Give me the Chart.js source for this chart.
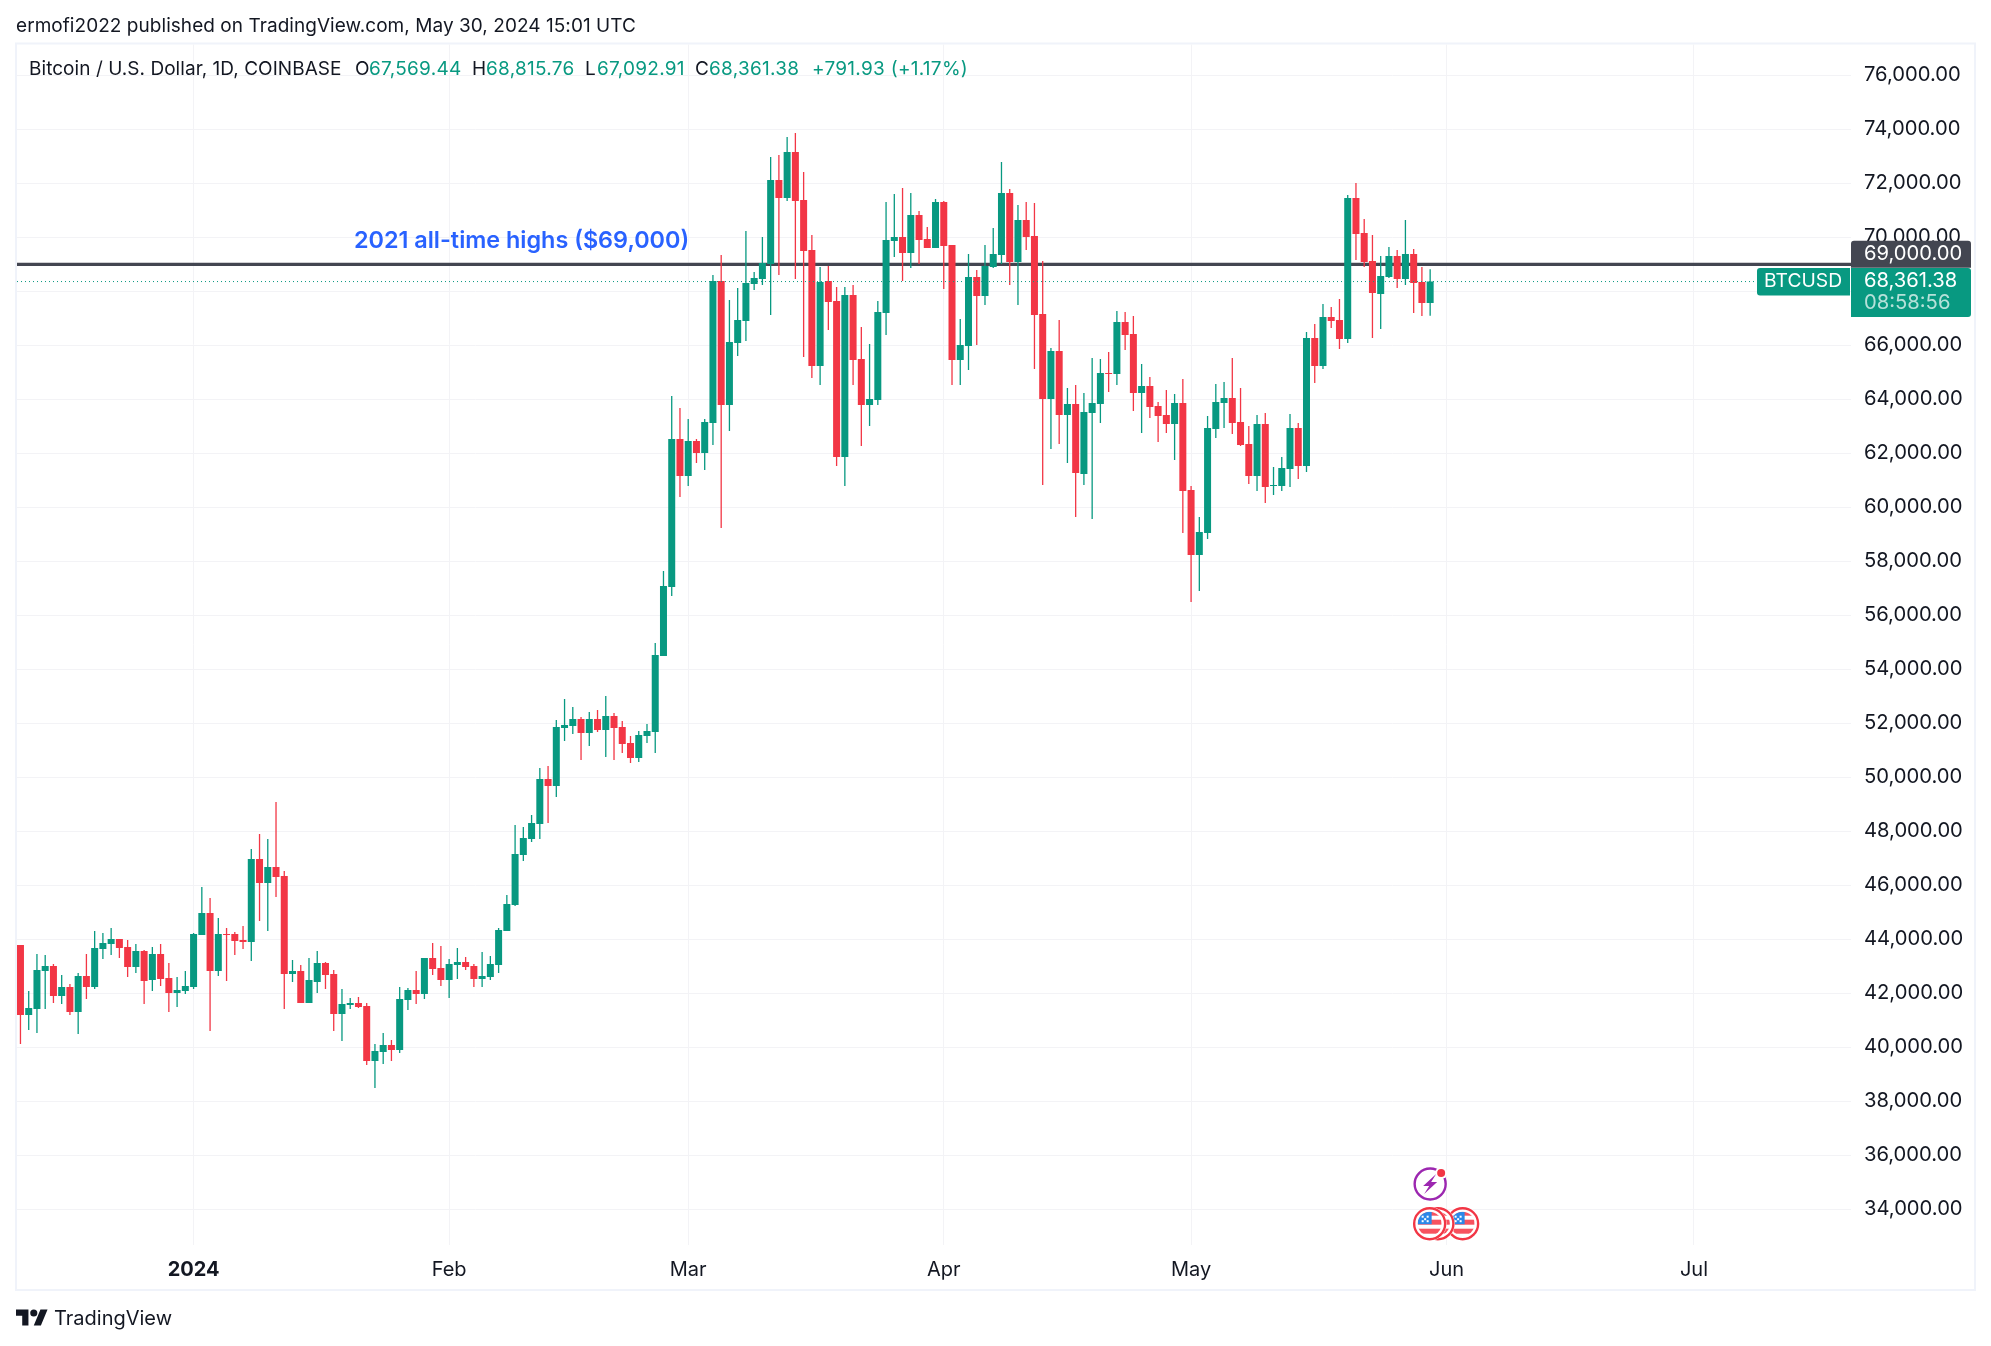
<!DOCTYPE html>
<html><head><meta charset="utf-8">
<script src="https://cdn.jsdelivr.net/npm/chart.js@4"></script>
<style>
html,body{margin:0;padding:0;background:#fff;width:1991px;height:1346px;overflow:hidden}
canvas{position:absolute;left:0;top:0}
.t{position:absolute;white-space:nowrap;font-family:Inter,sans-serif;font-size:19px;line-height:22px;color:#131722;letter-spacing:.05px}
.g{color:#089981;letter-spacing:.28px}
</style></head><body>
<canvas id="c" width="1991" height="1346"></canvas>
<div class="t" style="left:16px;top:15px">ermofi2022 published on TradingView.com, May 30, 2024 15:01 UTC</div>
<div class="t" style="left:29px;top:58px">Bitcoin / U.S. Dollar, 1D, COINBASE</div>
<div class="t" style="left:355px;top:58px">O</div><div class="t g" style="left:369px;top:58px">67,569.44</div>
<div class="t" style="left:472px;top:58px">H</div><div class="t g" style="left:486px;top:58px">68,815.76</div>
<div class="t" style="left:585px;top:58px">L</div><div class="t g" style="left:597px;top:58px">67,092.91</div>
<div class="t" style="left:695px;top:58px">C</div><div class="t g" style="left:709px;top:58px">68,361.38</div>
<div class="t g" style="left:812px;top:58px">+791.93 (+1.17%)</div>
<svg style="position:absolute;left:16px;top:1309px" width="32" height="17" viewBox="0 4 36 18"><path fill="#131722" d="M14 22H7V11H0V4h14v18zM28 22h-8l7.5-18h8L28 22z"/><circle fill="#131722" cx="20" cy="8" r="4"/></svg>
<div class="t" style="left:54px;top:1306px;font-size:20px;line-height:25px;letter-spacing:0">TradingView</div>
<script>
const dayOffset0 = -21; // first candle: 11 Dec 2023, days counted from 1 Jan 2024
const opens = [43789,41196,41418,42826,43011,41900,42233,41307,42641,42233,
43641,43826,44011,43715,42974,43567,42492,43455,42566,42011,
42085,42233,44159,44974,42826,44196,44196,43974,43900,46974,
46085,46678,46344,42715,42826,41641,42418,43122,42715,41233,
41567,41641,41530,39492,39826,40085,39900,41752,42122,41974,
43308,42937,42493,43048,43159,43011,42530,42604,43048,44308,
45270,47122,47715,48271,49937,49678,51826,51900,52159,51641,
52159,51752,52271,51863,51271,50715,51530,51678,54492,57048,
62529,61158,62455,62011,63122,68381,63788,66085,66899,68270,
68455,69011,72122,71455,73159,71381,69529,65233,68381,67640,
61862,67862,65492,63788,63973,67196,69862,70011,69418,70825,
69936,69603,71307,69714,65455,65973,68529,67825,68900,69344,
71640,69085,70640,70048,67159,64011,65788,63418,63825,61233,
63492,63825,64974,64937,66863,66418,64233,64492,63751,63418,
63085,63862,60640,58233,59048,62899,63862,64047,63159,62345,
61159,63085,60789,60789,61419,62937,61530,66271,65234,67048,
66937,66234,71456,70160,69123,67900,68530,69308,68456,69382,
68345,67569.44];
const closes = [41196,41455,42863,43011,41900,42233,41307,42641,42233,43678,
43863,44011,43678,42974,43567,42455,43455,42529,42011,42122,
42270,44196,44974,42826,44196,44159,43937,43900,46974,46085,
46678,46307,42715,42826,41641,42493,43122,42678,41233,41604,
41641,41493,39492,39863,40085,39900,41789,42122,41974,43308,
42900,42493,43085,43159,42974,42530,42641,43085,44345,45307,
47159,47752,48308,49937,49678,51863,51937,52159,51641,52159,
51752,52271,51826,51234,50715,51567,51715,54529,57085,62529,
61158,62455,62011,63158,68381,63788,66122,66936,68307,68492,
69048,72122,71455,73159,71344,69492,65233,68344,67603,61862,
67862,65455,63788,64011,67233,69899,70011,69418,70825,69899,
69603,71307,69677,65455,66011,68529,67825,68937,69381,71640,
69085,70640,70011,67122,64011,65788,63418,63825,61270,63529,
63862,64974,64937,66863,66381,64233,64492,63714,63381,63085,
63862,60603,58233,59085,62936,63899,64047,63122,62307,61159,
63085,60752,60826,61455,62937,61530,66271,65234,67048,66900,
66234,71456,70123,69086,67937,68567,69308,68456,69382,68308,
67567,68361.38];
const highs = [43789,42085,43455,43418,43085,42678,42344,42752,43455,44307,
44233,44418,44011,43974,43826,43604,43715,43826,43122,42604,
42826,44233,45937,45529,44789,44418,44270,44493,47344,47900,
47715,49085,46530,43233,43048,43307,43566,43159,42863,42159,
41826,41863,41641,40122,40530,40270,42233,42196,42826,43308,
43863,43752,43270,43678,43344,43085,43530,43381,44419,45641,
48234,48159,48604,50345,50419,52122,52900,52604,52234,52419,
52493,53011,52382,52086,51530,51715,51974,54974,57641,64122,
63677,63270,62529,63270,68603,69344,67677,68122,70233,68714,
70011,72974,73048,73714,73862,72418,70085,68899,68936,68159,
68159,68233,66677,66048,67640,71307,71603,71825,71640,70973,
70381,71418,71344,69714,66974,69381,68788,69714,70344,72789,
71788,71196,71307,71270,69122,65900,66937,64418,64529,64233,
65529,65492,65751,67270,67233,67085,65307,64825,63899,64344,
64196,64751,60788,59640,63381,64566,64640,65529,64419,63011,
63419,63493,61493,61863,63456,63122,66493,66789,67530,67419,
67715,71567,72011,70678,70086,69308,69641,69530,70641,69567,
68900,68815.76];
const lows = [40122,40641,40530,41418,41640,41603,41196,40492,41789,42159,
43270,43418,43307,42604,42752,41603,42085,42270,41307,41492,
41974,42159,44159,40604,42641,42455,43418,43641,43196,44678,
44307,45567,41418,42418,41641,41641,42011,42159,40604,40233,
41418,41456,39344,38492,39381,39492,39789,41381,41604,41789,
42678,42270,41826,42530,42863,42233,42233,42493,42752,44308,
45233,46900,47604,47715,48308,49271,51345,51604,50641,51159,
51678,50752,50641,50900,50530,50567,51271,50900,54492,56715,
60380,60788,61640,61380,62307,59233,62825,65603,66159,68048,
68233,67122,68603,71344,68455,65566,64788,64529,66566,61529,
60788,64529,62270,63010,63788,66381,69270,68381,68862,69011,
69603,69603,68085,64529,64529,65085,66011,67492,68863,69011,
68233,67492,69529,65122,60825,62159,62344,61640,59640,60825,
59566,63122,64270,64529,65825,63566,62751,63307,62418,62751,
61751,59048,56492,56900,58825,62566,62937,62714,62270,60863,
60604,60159,60456,60604,60752,61048,61307,64604,65122,66641,
65863,66085,69160,68900,66271,66604,68493,68123,68234,67197,
67086,67092.91];
const priceTicks = [34000,36000,38000,40000,42000,44000,46000,48000,50000,52000,54000,56000,58000,60000,62000,64000,66000,68000,70000,72000,74000,76000];
const monthDays = [0,31,60,91,121,152,182];
const monthLabels = ['2024','Feb','Mar','Apr','May','Jun','Jul'];
const athLevel = 69000;
const athLabel = '2021 all-time highs ($69,000)';
const lastPrice = 68361.38;
const lastPriceText = '68,361.38';
const countdownText = '08:58:56';
const athPriceText = '69,000.00';
const symbolText = 'BTCUSD';
const boltDay = 150, boltPrice = 34937;
const flagDays = [154,151,150], flagPrice = 33467;

const GREEN='#089981', RED='#f23645', DARK='#434651', GRID='#f3f3f6', BORDER='#f0f3fa', TEXT='#131722';
const FONT='Inter, sans-serif';
const XMIN=-21.42, XMAX=201.05, YMIN=32678, YMAX=77141;
const days = opens.map((_,i)=>i+dayOffset0);
const cols = opens.map((o,i)=>closes[i]>=o?GREEN:RED);

function flag(ctx,x,y){
  ctx.save();
  ctx.beginPath();ctx.arc(x,y,17,0,7);ctx.fillStyle='#fff';ctx.fill();
  ctx.beginPath();ctx.arc(x,y,15.5,0,7);ctx.lineWidth=2.4;ctx.strokeStyle=RED;ctx.stroke();
  ctx.beginPath();ctx.arc(x,y,12,0,7);ctx.clip();
  ctx.fillStyle='#fff';ctx.fillRect(x-12,y-12,24,24);
  ctx.fillStyle='#f7525f';
  ctx.fillRect(x-12,y-12,24,4);ctx.fillRect(x-12,y-4,24,5);ctx.fillRect(x-12,y+5,24,5);
  ctx.fillStyle='#2c88e8';ctx.fillRect(x-12,y-12,14,12.5);
  ctx.fillStyle='#fff';
  [[-8,-8],[-3,-8],[-8,-3.5],[-3,-3.5],[-5.5,-5.5]].forEach(p=>ctx.fillRect(x+p[0],y+p[1],2,2));
  ctx.restore();
}
function rr(ctx,x,y,w,h,r){ctx.beginPath();ctx.roundRect(x,y,w,h,r);ctx.fill();}

const overlay={id:'overlay',
 beforeDraw(ch){const c=ch.ctx;c.save();c.strokeStyle=BORDER;c.lineWidth=2;c.strokeRect(16,43.5,1959,1246.5);c.restore();},
 afterDraw(ch){
  const c=ch.ctx,ys=ch.scales.y,xs=ch.scales.x,R=ch.chartArea.right;
  c.save();
  c.font='600 23.4px '+FONT;c.fillStyle='#2962ff';c.textAlign='right';c.textBaseline='bottom';
  c.fillText(athLabel,xs.getPixelForValue(60)+1,ys.getPixelForValue(athLevel)-12);
  const ya=ys.getPixelForValue(athLevel), yl=ys.getPixelForValue(lastPrice);
  c.fillStyle=GREEN;rr(c,R,yl-13.5,120,49,[0,3,3,0]);
  rr(c,R-94,yl-13.5,93,27.5,[3,0,0,3]);
  c.fillStyle=DARK;rr(c,R,ya-23.5,120,27,[3,3,0,0]);
  c.font='20.2px '+FONT;c.textAlign='left';c.textBaseline='middle';
  c.fillStyle='#fff';c.fillText(athPriceText,R+13,ya-10);
  c.fillText(lastPriceText,R+13,yl-0.5);
  c.fillStyle='rgba(255,255,255,0.7)';c.fillText(countdownText,R+13,yl+21);
  c.font='19.3px '+FONT;c.fillStyle='#fff';c.fillText(symbolText,R-87,yl);
  const bx=xs.getPixelForValue(boltDay),by=ys.getPixelForValue(boltPrice);
  c.strokeStyle='#9c27b0';c.lineWidth=2.4;c.beginPath();c.arc(bx,by,15.5,0,7);c.stroke();
  c.fillStyle='#fff';c.beginPath();c.arc(bx+11,by-11,6,0,7);c.fill();
  c.fillStyle=RED;c.beginPath();c.arc(bx+11,by-11,4,0,7);c.fill();
  c.fillStyle='#9c27b0';c.beginPath();
  [[6,-10],[-7,2],[-1,2],[-6,10],[7,-2],[1,-2]].forEach((p,i)=>i?c.lineTo(bx+p[0],by+p[1]):c.moveTo(bx+p[0],by+p[1]));
  c.closePath();c.fill();
  flagDays.forEach(d=>flag(c,xs.getPixelForValue(d)-0.5,ys.getPixelForValue(flagPrice)));
  c.restore();
 }};

new Chart(document.getElementById('c'),{
 type:'bar',
 data:{datasets:[
  {type:'line',label:'Last price',data:[{x:XMIN,y:lastPrice},{x:XMAX,y:lastPrice}],borderColor:GREEN,borderWidth:1,borderDash:[1,3],pointRadius:0,order:0},
  {label:'Body',data:days.map((d,i)=>({x:d,y:[opens[i],closes[i]]})),backgroundColor:cols,barThickness:7,grouped:false,inflateAmount:0,order:1},
  {label:'Wick',data:days.map((d,i)=>({x:d,y:[lows[i],highs[i]]})),backgroundColor:cols,barThickness:1.3,grouped:false,inflateAmount:0,order:2},
  {type:'line',label:'2021 ATH',data:[{x:XMIN,y:athLevel},{x:XMAX,y:athLevel}],borderColor:DARK,borderWidth:3.2,pointRadius:0,order:3}
 ]},
 plugins:[overlay],
 options:{
  responsive:false,animation:false,devicePixelRatio:1,
  layout:{padding:{left:17,right:16,top:44.5,bottom:56}},
  plugins:{legend:{display:false},tooltip:{enabled:false},title:{display:false}},
  scales:{
   x:{type:'linear',min:XMIN,max:XMAX,offset:false,
      afterBuildTicks:s=>{s.ticks=monthDays.map(v=>({value:v}));},
      afterFit:s=>{s.height=45;},
      grid:{color:GRID,lineWidth:1,drawTicks:false,offset:false},border:{display:false},
      ticks:{autoSkip:false,maxRotation:0,padding:13,color:TEXT,
        callback:v=>monthLabels[monthDays.indexOf(v)],
        font:c=>({family:FONT,size:20,weight:c.index===0?'700':'400'})}},
   y:{type:'linear',position:'right',min:YMIN,max:YMAX,
      afterBuildTicks:s=>{s.ticks=priceTicks.map(v=>({value:v}));},
      afterFit:s=>{s.width=124;},
      grid:{color:GRID,lineWidth:1,drawTicks:false},border:{display:false},
      ticks:{autoSkip:false,padding:13,color:TEXT,font:{family:FONT,size:20.2},
        callback:v=>v.toLocaleString('en-US',{minimumFractionDigits:2,maximumFractionDigits:2})}}
  }
 }
});
</script>
</body></html>
